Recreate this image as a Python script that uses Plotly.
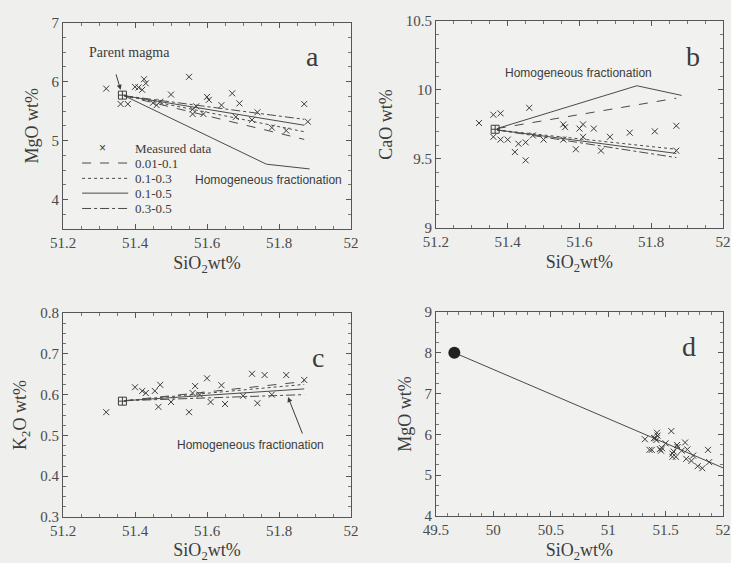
import plotly.graph_objects as go

# ---- measured data ----
sio2_a = [51.32, 51.36, 51.38, 51.40, 51.41, 51.42, 51.425, 51.43, 51.45, 51.46, 51.47, 51.50,
          51.55, 51.56, 51.56, 51.57, 51.59, 51.60, 51.605, 51.64, 51.67, 51.68, 51.69, 51.725,
          51.74, 51.78, 51.82, 51.87, 51.88]
mgo_a = [5.88, 5.62, 5.62, 5.91, 5.90, 5.86, 6.04, 5.97, 5.64, 5.60, 5.66, 5.78,
         6.08, 5.53, 5.45, 5.58, 5.45, 5.74, 5.69, 5.60, 5.80, 5.40, 5.63, 5.35,
         5.48, 5.22, 5.17, 5.62, 5.32]

sio2_b = [51.32, 51.36, 51.38, 51.36, 51.38, 51.40, 51.42, 51.43, 51.45, 51.45, 51.46, 51.47,
          51.50, 51.555, 51.56, 51.555, 51.59, 51.60, 51.61, 51.61, 51.64, 51.66, 51.685,
          51.74, 51.81, 51.87, 51.87]
cao_b = [9.76, 9.82, 9.83, 9.66, 9.64, 9.64, 9.55, 9.61, 9.62, 9.49, 9.87, 9.67,
         9.64, 9.75, 9.73, 9.64, 9.57, 9.72, 9.66, 9.75, 9.72, 9.56, 9.66,
         9.69, 9.70, 9.74, 9.56]

sio2_c = [51.32, 51.40, 51.42, 51.43, 51.455, 51.47, 51.465, 51.50, 51.55, 51.567, 51.56,
          51.58, 51.60, 51.61, 51.64, 51.65, 51.70, 51.725, 51.74, 51.76, 51.78, 51.82, 51.87]
k2o_c = [0.557, 0.618, 0.609, 0.604, 0.609, 0.624, 0.570, 0.582, 0.557, 0.621, 0.604,
         0.600, 0.640, 0.582, 0.623, 0.577, 0.597, 0.651, 0.579, 0.648, 0.600, 0.648, 0.636]

# parent magma composition
parent_sio2 = 51.365
parent_mgo = 5.77
parent_cao = 9.715
parent_k2o = 0.584

# ---- model curves ----
model_names = ["0.01-0.1", "0.1-0.3", "0.1-0.5", "0.3-0.5"]
model_x = [51.37, 51.87]
mgo_models = {
    "0.01-0.1": [5.76, 5.02],
    "0.1-0.3": [5.76, 5.15],
    "0.1-0.5": [5.76, 5.26],
    "0.3-0.5": [5.76, 5.36],
}
hf_x_a = [51.37, 51.765, 51.885]
hf_mgo = [5.76, 4.60, 4.52]

cao_models = {
    "0.01-0.1": [9.72, 9.94],
    "0.1-0.3": [9.71, 9.57],
    "0.1-0.5": [9.71, 9.54],
    "0.3-0.5": [9.71, 9.51],
}
hf_x_b = [51.37, 51.76, 51.885]
hf_cao = [9.72, 10.03, 9.96]

k2o_models = {
    "0.01-0.1": [0.585, 0.632],
    "0.1-0.3": [0.585, 0.625],
    "0.1-0.5": [0.585, 0.614],
    "0.3-0.5": [0.585, 0.600],
}

# fractionation trend from the primary magma
primary_sio2 = 49.66
primary_mgo = 8.0
trend_x = [49.66, 50.5, 51.37, 52.0]
trend_mgo = [8.0, 6.99, 5.94, 5.18]

INK = "#3c3c3c"
LINE = "#4a4a4a"
SERIF = "Liberation Serif"
SANS = "Liberation Sans"
dashes = {"0.01-0.1": "dash", "0.1-0.3": "dot", "0.1-0.5": "solid", "0.3-0.5": "dashdot"}

fig = go.Figure()

def scatter_x(x, y, xa, ya):
    fig.add_trace(go.Scatter(
        x=x, y=y, mode="markers", xaxis=xa, yaxis=ya, name="Measured data",
        marker=dict(symbol="x-thin-open", size=6, line=dict(width=1, color=INK), color=INK)))

def parent(x, y, xa, ya):
    fig.add_trace(go.Scatter(
        x=[x], y=[y], mode="markers", xaxis=xa, yaxis=ya, name="Parent magma",
        marker=dict(symbol="square-cross-open", size=8, line=dict(width=1, color=INK), color=INK)))

# panel a
scatter_x(sio2_a, mgo_a, "x", "y")
for name, ys in mgo_models.items():
    fig.add_trace(go.Scatter(x=model_x, y=ys, mode="lines", xaxis="x", yaxis="y", name=name,
                             line=dict(color=LINE, width=1, dash=dashes[name])))
fig.add_trace(go.Scatter(x=hf_x_a, y=hf_mgo, mode="lines", xaxis="x", yaxis="y",
                         name="Homogeneous fractionation", line=dict(color=LINE, width=1)))
parent(parent_sio2, parent_mgo, "x", "y")

# panel b
scatter_x(sio2_b, cao_b, "x2", "y2")
for name, ys in cao_models.items():
    fig.add_trace(go.Scatter(x=model_x, y=ys, mode="lines", xaxis="x2", yaxis="y2", name=name,
                             line=dict(color=LINE, width=1, dash=dashes[name])))
fig.add_trace(go.Scatter(x=hf_x_b, y=hf_cao, mode="lines", xaxis="x2", yaxis="y2",
                         name="Homogeneous fractionation", line=dict(color=LINE, width=1)))
parent(parent_sio2, parent_cao, "x2", "y2")

# panel c
scatter_x(sio2_c, k2o_c, "x3", "y3")
for name, ys in k2o_models.items():
    fig.add_trace(go.Scatter(x=model_x, y=ys, mode="lines", xaxis="x3", yaxis="y3", name=name,
                             line=dict(color=LINE, width=1, dash=dashes[name])))
parent(parent_sio2, parent_k2o, "x3", "y3")

# panel d
fig.add_trace(go.Scatter(x=trend_x, y=trend_mgo, mode="lines", xaxis="x4", yaxis="y4",
                         name="Fractionation trend", line=dict(color=LINE, width=1)))
scatter_x(sio2_a, mgo_a, "x4", "y4")
fig.add_trace(go.Scatter(x=[primary_sio2], y=[primary_mgo], mode="markers", xaxis="x4", yaxis="y4",
                         name="Primary magma", marker=dict(symbol="circle", size=12, color="#222")))

xtitle = "SiO<sub>2</sub>wt%"

def axis(domain, rng, dtick, title, anchor, minor_dtick, standoff):
    return dict(
        domain=domain, range=rng, dtick=dtick, tick0=0, anchor=anchor, automargin=False,
        showgrid=False, zeroline=False, showline=True, linecolor="#555", linewidth=1,
        mirror="ticks", ticks="inside", ticklen=5, tickcolor="#555",
        minor=dict(ticks="inside", ticklen=3, dtick=minor_dtick, tickcolor="#777", showgrid=False),
        tickfont=dict(family=SERIF, size=15, color="#4a4a4a"),
        title=dict(text=title, font=dict(family=SERIF, size=18, color=INK), standoff=standoff),
    )

fig.update_layout(
    width=731, height=563,
    margin=dict(l=0, r=0, t=0, b=0, pad=0, autoexpand=False),
    paper_bgcolor="#efefed", plot_bgcolor="#f1f1ef",
    showlegend=False,
    xaxis=axis([0.0862, 0.4802], [51.2, 52], 0.2, xtitle, "y", 0.05, 6),
    yaxis=axis([0.593, 0.960], [3.5, 7], 1, "MgO wt%", "x", 0.25, 8),
    xaxis2=axis([0.5964, 0.989], [51.2, 52], 0.2, xtitle, "y2", 0.05, 6),
    yaxis2=axis([0.595, 0.963], [9, 10.5], 0.5, "CaO wt%", "x2", 0.1, 8),
    xaxis3=axis([0.0862, 0.4802], [51.2, 52], 0.2, xtitle, "y3", 0.05, 6),
    yaxis3=axis([0.0817, 0.444], [0.3, 0.8], 0.1, "K<sub>2</sub>O wt%", "x3", 0.025, 8),
    xaxis4=axis([0.5964, 0.989], [49.5, 52], 0.5, xtitle, "y4", 0.1, 6),
    yaxis4=axis([0.0835, 0.446], [4, 9], 1, "MgO wt%", "x4", 0.25, 8),
)

def letter(t, x, y, xa, ya):
    return dict(text=t, x=x, y=y, xref=xa, yref=ya, showarrow=False,
                font=dict(family=SERIF, size=28, color=INK))

annotations = [
    letter("a", 51.894, 6.42, "x", "y"),
    letter("b", 51.916, 10.24, "x2", "y2"),
    letter("c", 51.908, 0.69, "x3", "y3"),
    letter("d", 51.70, 8.15, "x4", "y4"),
    dict(text="Parent magma", x=51.385, y=6.50, xref="x", yref="y", showarrow=False,
         font=dict(family=SERIF, size=14, color=INK)),
    dict(text="", x=parent_sio2 - 0.005, y=5.86, xref="x", yref="y", ax=-5, ay=-17,
         showarrow=True, arrowhead=2, arrowsize=1, arrowwidth=1, arrowcolor=INK),
    dict(text="Homogeneous fractionation", x=51.77, y=4.34, xref="x", yref="y",
         showarrow=False, font=dict(family=SANS, size=12, color=INK)),
    dict(text="Homogeneous fractionation", x=51.596, y=10.12, xref="x2", yref="y2",
         showarrow=False, font=dict(family=SANS, size=12, color=INK)),
    dict(text="Homogeneous fractionation", x=51.72, y=0.476, xref="x3", yref="y3",
         showarrow=False, font=dict(family=SANS, size=12, color=INK)),
    dict(text="", x=51.825, y=0.594, xref="x3", yref="y3", ax=15, ay=38,
         showarrow=True, arrowhead=2, arrowsize=1, arrowwidth=1, arrowcolor=INK),
]

# key for panel a: symbol / line sample on the left, label on the right (data units of panel a)
key_rows = ["Measured data"] + model_names
key_y = [4.87, 4.62, 4.36, 4.11, 3.85]
key_line_x = (51.253, 51.381)
key_text_x = 51.394
key_mark_x = 51.311
shapes = []
for label, ky in zip(key_rows, key_y):
    annotations.append(dict(text=label, x=key_text_x, y=ky, xref="x", yref="y",
                            xanchor="left", showarrow=False,
                            font=dict(family=SERIF, size=13, color=INK)))
    if label == "Measured data":
        annotations.append(dict(text="×", x=key_mark_x, y=ky, xref="x", yref="y",
                                showarrow=False, font=dict(family=SANS, size=12, color=INK)))
    else:
        shapes.append(dict(type="line", xref="x", yref="y",
                           x0=key_line_x[0], x1=key_line_x[1], y0=ky, y1=ky,
                           line=dict(color=LINE, width=1, dash=dashes[label])))

fig.update_layout(annotations=annotations, shapes=shapes)

fig.write_html("out.html")
